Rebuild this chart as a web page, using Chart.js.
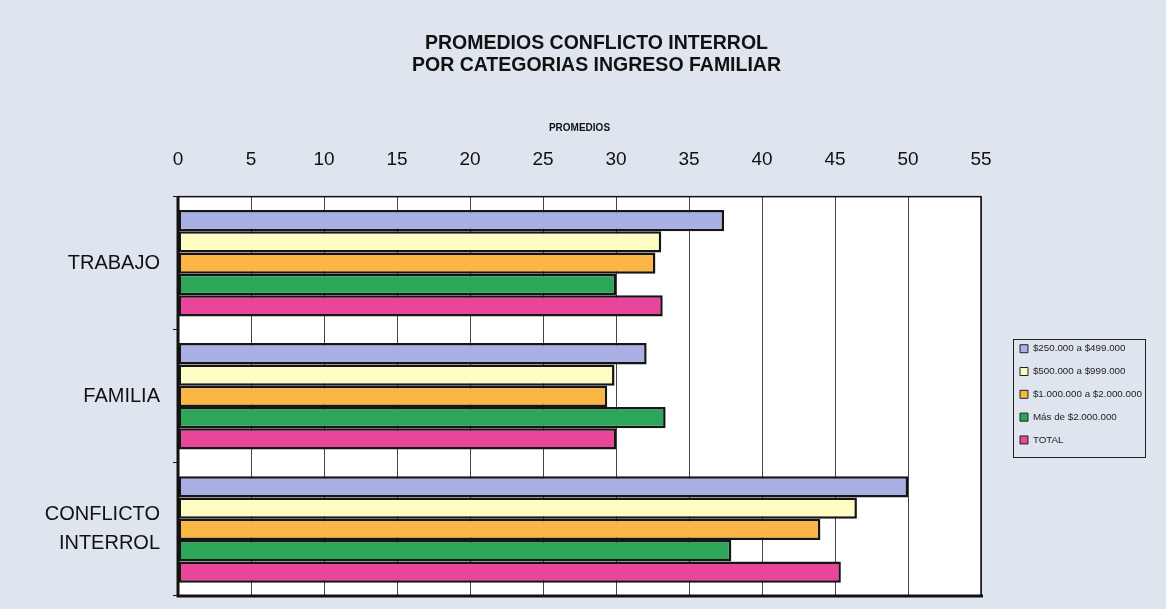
<!DOCTYPE html>
<html>
<head>
<meta charset="utf-8">
<script src="https://cdn.jsdelivr.net/npm/chart.js@4"></script>
<style>
  html, body { margin: 0; padding: 0; background: #dfe5ee; }
  #wrap { width: 1166px; height: 609px; position: relative; }
</style>
</head>
<body>
<div id="wrap"><canvas id="chart" width="1166" height="609"></canvas></div>
<script>
const categories = ["TRABAJO", "FAMILIA", ["CONFLICTO", "INTERROL"]];
const seriesNames = ["$250.000 a $499.000", "$500.000 a $999.000", "$1.000.000 a $2.000.000", "Más de $2.000.000", "TOTAL"];
const ingreso250 = [37.4, 32.1, 50.0];
const ingreso500 = [33.1, 29.9, 46.5];
const ingreso1000 = [32.7, 29.4, 44.0];
const ingresoMas2000 = [30.0, 33.4, 37.9];
const total = [33.2, 30.0, 45.4];
const colors = ["#a9b0e4", "#fdfcc2", "#fbb545", "#2ea65a", "#e9469b"];

const seriesValues = [ingreso250, ingreso500, ingreso1000, ingresoMas2000, total];

const PLOT_RIGHT = 981;
const LEGEND_LEFT = 1007;

// white plot area with a heavy left/bottom edge, and a framed legend
const plotFrame = {
  id: "plotFrame",
  beforeLayout(chart) {
    const lg = chart.legend;
    if (lg && !lg._fixedFit) {
      const fit = lg.fit.bind(lg);
      lg.fit = function () {
        fit();
        this.width = chart.width - 21 - PLOT_RIGHT;
      };
      lg._fixedFit = true;
    }
  },
  afterLayout(chart) {
    const lg = chart.legend;
    const a = chart.chartArea;
    const w = lg.width;
    lg.left = LEGEND_LEFT;
    lg.right = LEGEND_LEFT + w;
    lg.top = a.top - 2;
    lg.bottom = a.bottom - 2;
    // original title sits a little right of the page centre
    const tb = chart.titleBlock;
    tb.left += 24;
    tb.right += 24;
  },
  beforeDatasetsDraw(chart) {
    const { ctx, chartArea: a } = chart;
    ctx.save();
    ctx.fillStyle = "#ffffff";
    ctx.globalCompositeOperation = "destination-over";
    ctx.fillRect(a.left, a.top, a.right - a.left, a.bottom - a.top);
    ctx.restore();
  },
  afterDatasetsDraw(chart) {
    const { ctx, chartArea: a } = chart;
    ctx.save();
    ctx.strokeStyle = "#111";
    ctx.lineWidth = 1.5;
    ctx.strokeRect(a.left, a.top, a.right - a.left, a.bottom - a.top);
    ctx.lineWidth = 3;
    ctx.beginPath();
    ctx.moveTo(a.left, a.top);
    ctx.lineTo(a.left, a.bottom);
    ctx.lineTo(a.right + 2, a.bottom);
    ctx.stroke();
    ctx.restore();
  },
  afterDraw(chart) {
    const boxes = chart.legend.legendHitBoxes;
    if (!boxes || !boxes.length) return;
    const first = boxes[0];
    const last = boxes[boxes.length - 1];
    const top = first.top + first.height / 2 - 10;
    const bottom = last.top + last.height / 2 + 17;
    const ctx = chart.ctx;
    ctx.save();
    ctx.strokeStyle = "#222";
    ctx.lineWidth = 1;
    ctx.strokeRect(1013.5, Math.round(top) + 0.5, 132, Math.round(bottom - top));
    ctx.restore();
  }
};

new Chart(document.getElementById("chart"), {
  type: "bar",
  data: {
    labels: categories,
    datasets: seriesNames.map((name, i) => ({
      label: name,
      data: seriesValues[i],
      backgroundColor: colors[i],
      borderColor: "#151515",
      borderWidth: 2.5,
      borderSkipped: false,
      barPercentage: 1.0,
      categoryPercentage: 0.8
    }))
  },
  options: {
    indexAxis: "y",
    responsive: false,
    animation: false,
    layout: { padding: { left: 0, right: 21, top: 0, bottom: 13 } },
    plugins: {
      title: {
        display: true,
        text: ["PROMEDIOS CONFLICTO INTERROL", "POR CATEGORIAS INGRESO FAMILIAR"],
        color: "#111",
        font: { family: "Arial, 'Liberation Sans'", size: 19.5, weight: "bold", lineHeight: 1.15 },
        padding: { top: 32, bottom: 45 }
      },
      legend: {
        position: "right",
        align: "center",
        labels: {
          color: "#222",
          font: { family: "Arial, 'Liberation Sans'", size: 9.8 },
          boxWidth: 8,
          boxHeight: 8,
          padding: 13,
          generateLabels(chart) {
            return chart.data.datasets.map((ds, i) => ({
              text: ds.label,
              fillStyle: ds.backgroundColor,
              strokeStyle: "#222",
              lineWidth: 1,
              datasetIndex: i,
              fontColor: "#222"
            }));
          }
        }
      },
      tooltip: { enabled: false }
    },
    scales: {
      x: {
        position: "top",
        min: 0,
        max: 55,
        ticks: {
          stepSize: 5,
          color: "#111",
          padding: 25,
          font: { family: "Arial, 'Liberation Sans'", size: 19 }
        },
        grid: { color: "#444", lineWidth: 1, drawTicks: false },
        border: { display: false },
        title: {
          display: true,
          text: "PROMEDIOS",
          color: "#111",
          font: { family: "Arial, 'Liberation Sans'", size: 10, weight: "bold" },
          padding: { top: 0, bottom: -10 }
        }
      },
      y: {
        ticks: {
          color: "#111",
          padding: 13,
          font: { family: "Arial, 'Liberation Sans'", size: 20, lineHeight: 1.45 }
        },
        grid: { drawOnChartArea: false, color: "#111", tickLength: 5, offset: true },
        border: { display: false },
        afterFit(scale) {
          scale.width = 178;
          scale.paddingTop = 0;
          scale.paddingBottom = 0;
        }
      }
    }
  },
  plugins: [plotFrame]
});
</script>
</body>
</html>
